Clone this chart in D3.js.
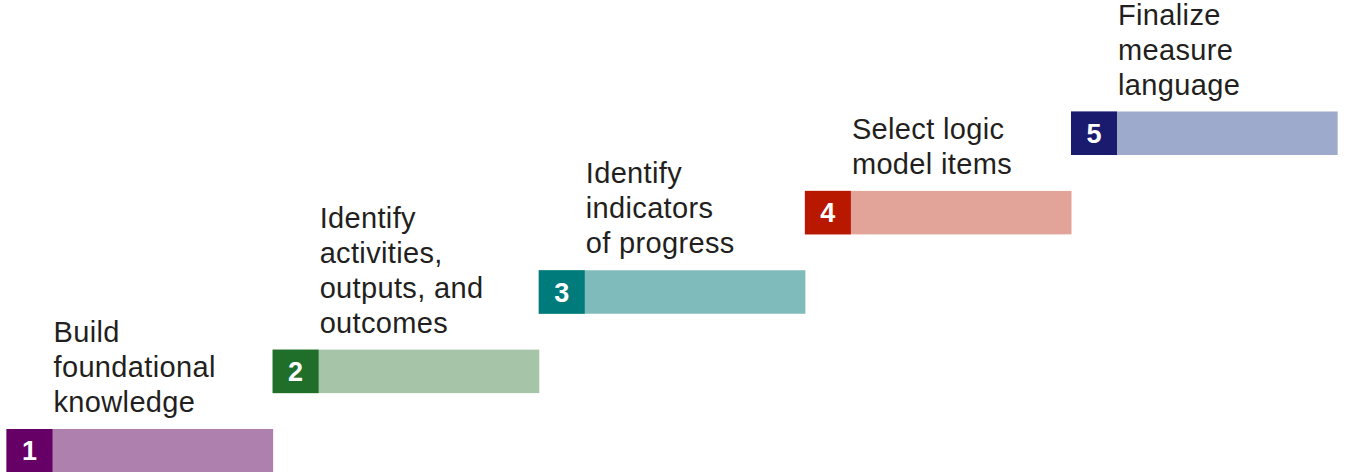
<!DOCTYPE html>
<html><head><meta charset="utf-8">
<script src="https://cdn.jsdelivr.net/npm/d3@7"></script>
<style>html,body{margin:0;padding:0;background:#fff;overflow:hidden}</style>
</head><body><svg id="c" width="1345" height="472"></svg>
<script>
const steps = [1, 2, 3, 4, 5];
const labels = [
  ["Build", "foundational", "knowledge"],
  ["Identify", "activities,", "outputs, and", "outcomes"],
  ["Identify", "indicators", "of progress"],
  ["Select logic", "model items"],
  ["Finalize", "measure", "language"]
];
const darkColors = ["#660066", "#1f6e2a", "#007b7b", "#b81800", "#1a1a6e"];
const lightColors = ["#ae80ad", "#a6c4a7", "#80bbbb", "#e2a398", "#9daacc"];

const svg = d3.select("#c");
const x = d3.scaleLinear().domain([0, 4]).range([6.5, 1071]);
const yBottom = d3.scaleLinear().domain([0, 4]).range([472.5, 155]);
const barW = x(1) - x(0) + 0.5;
const barH = 43.5;
const boxW = 46;
const fs = 29, lh = 35;

const g = svg.selectAll("g.step").data(steps).join("g").attr("class", "step");
g.append("rect")
  .attr("x", (d, i) => x(i)).attr("y", (d, i) => yBottom(i) - barH)
  .attr("width", barW).attr("height", barH)
  .attr("fill", (d, i) => lightColors[i]);
g.append("rect")
  .attr("x", (d, i) => x(i)).attr("y", (d, i) => yBottom(i) - barH)
  .attr("width", boxW).attr("height", barH)
  .attr("fill", (d, i) => darkColors[i]);
g.append("text")
  .attr("x", (d, i) => x(i) + boxW / 2).attr("y", (d, i) => yBottom(i) - barH / 2 + 9.5)
  .attr("text-anchor", "middle")
  .attr("font-family", "Liberation Sans, Arial, sans-serif")
  .attr("font-weight", "bold").attr("font-size", 27).attr("fill", "#fff")
  .text(d => d);
g.each(function(d, i) {
  const lines = labels[i];
  const top = yBottom(i) - barH;
  const t = d3.select(this).append("text")
    .attr("font-family", "Liberation Sans, Arial, sans-serif")
    .attr("font-size", fs).attr("letter-spacing", 0.35).attr("fill", "#231f20");
  lines.forEach((ln, k) => {
    t.append("tspan").attr("x", x(i) + boxW + 1)
      .attr("y", top - 17 - (lines.length - 1 - k) * lh).text(ln);
  });
});
</script></body></html>
